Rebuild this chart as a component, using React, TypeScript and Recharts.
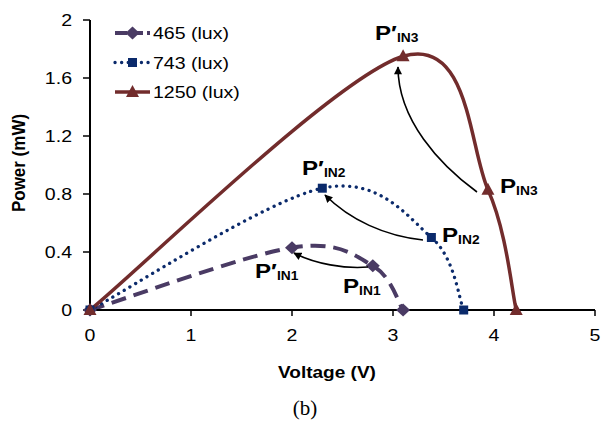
import { LineChart, Line, XAxis, YAxis } from 'recharts'

// values
const xTicks = [0, 1, 2, 3, 4, 5]
const yTicks = [0, 0.4, 0.8, 1.2, 1.6, 2]
const seriesNames = ['465 (lux)', '743 (lux)', '1250 (lux)']

const volts465 = [0, 2.0, 2.8, 3.1]
const power465 = [0, 0.43, 0.305, 0]
const volts743 = [0, 2.3, 3.38, 3.7]
const power743 = [0, 0.84, 0.5, 0]
const volts1250 = [0, 3.1, 3.94, 4.22]
const power1250 = [0, 1.75, 0.83, 0]

const zip = (xs: number[], ys: number[]) => xs.map((x, i) => ({ x, y: ys[i] }))

const FONT = '"Liberation Sans", Arial, sans-serif'
const SX = 1.15 // the figure's text is a bit wider than plain Arial

const COLORS = ['#4a3b64', '#0b2a6b', '#722c2c']

// Excel-style smoothed line (Catmull-Rom as cubic beziers)
function smoothCurve(context: any) {
  let pts: [number, number][] = []
  return {
    areaStart() {},
    areaEnd() {},
    lineStart() {
      pts = []
    },
    point(x: number, y: number) {
      pts.push([+x, +y])
    },
    lineEnd() {
      const n = pts.length
      if (!n) return
      context.moveTo(pts[0][0], pts[0][1])
      for (let i = 0; i < n - 1; i++) {
        const p0 = pts[Math.max(0, i - 1)]
        const p1 = pts[i]
        const p2 = pts[i + 1]
        const p3 = pts[Math.min(n - 1, i + 2)]
        context.bezierCurveTo(
          p1[0] + (p2[0] - p0[0]) / 6,
          p1[1] + (p2[1] - p0[1]) / 6,
          p2[0] - (p3[0] - p1[0]) / 6,
          p2[1] - (p3[1] - p1[1]) / 6,
          p2[0],
          p2[1]
        )
      }
    }
  }
}

function Marker({ kind, cx, cy, color }: { kind: number; cx: number; cy: number; color: string }) {
  if (kind === 0)
    return <polygon points={`${cx},${cy - 6.5} ${cx + 7},${cy} ${cx},${cy + 6.5} ${cx - 7},${cy}`} fill={color} />
  if (kind === 1) return <rect x={cx - 4.5} y={cy - 4.5} width={9} height={9} fill={color} />
  return <polygon points={`${cx},${cy - 7} ${cx + 6.5},${cy + 5} ${cx - 6.5},${cy + 5}`} fill={color} />
}

const dotFor = (kind: number) => (props: any) => (
  <Marker key={`${kind}-${props.index}`} kind={kind} cx={props.cx} cy={props.cy} color={COLORS[kind]} />
)

const lineStyles = [
  { strokeWidth: 4, strokeDasharray: '15 8', strokeLinecap: 'butt' as const },
  { strokeWidth: 3.3, strokeDasharray: '0.1 6.5', strokeLinecap: 'round' as const },
  { strokeWidth: 3.5, strokeDasharray: undefined, strokeLinecap: 'butt' as const }
]

function XTick(props: any) {
  const { x, y, payload } = props
  return (
    <text
      transform={`translate(${x},${y}) scale(${SX},1)`}
      textAnchor="middle"
      dy="0.71em"
      fontFamily={FONT}
      fontSize={17}
      fill="#000"
    >
      {payload.value}
    </text>
  )
}

function YTick(props: any) {
  const { x, y, payload } = props
  return (
    <text
      transform={`translate(${x},${y}) scale(${SX},1)`}
      textAnchor="end"
      dy="0.355em"
      fontFamily={FONT}
      fontSize={17}
      fill="#000"
    >
      {payload.value}
    </text>
  )
}

function PLabel({ x, y, prime, sub }: { x: number; y: number; prime?: boolean; sub: string }) {
  return (
    <text transform={`translate(${x},${y}) scale(${SX},1)`} fontFamily={FONT} fontWeight="bold" fill="#000">
      <tspan fontSize={21}>{prime ? 'P′' : 'P'}</tspan>
      <tspan fontSize={12} dy={2}>
        {sub}
      </tspan>
    </text>
  )
}

function Overlay() {
  return (
    <svg
      width={604}
      height={422}
      style={{ position: 'absolute', left: 0, top: 0, pointerEvents: 'none' }}
    >
      <defs>
        <marker
          id="ah"
          viewBox="0 0 10 10"
          refX="9"
          refY="5"
          markerUnits="userSpaceOnUse"
          markerWidth="9"
          markerHeight="8"
          orient="auto"
        >
          <path d="M0,0 L10,5 L0,10 z" fill="#000" />
        </marker>
      </defs>

      {/* legend */}
      {seriesNames.map((name, i) => {
        const y = 33 + i * 29.5
        const st = lineStyles[i]
        return (
          <g key={name}>
            <line
              x1={115}
              x2={150}
              y1={y}
              y2={y}
              stroke={COLORS[i]}
              strokeWidth={st.strokeWidth}
              strokeDasharray={i === 0 ? '12 4' : st.strokeDasharray}
              strokeLinecap={st.strokeLinecap}
            />
            <Marker kind={i} cx={132.5} cy={y} color={COLORS[i]} />
            <text
              transform={`translate(153,${y + 6}) scale(${SX},1)`}
              fontFamily={FONT}
              fontSize={17}
              fill="#000"
            >
              {name}
            </text>
          </g>
        )
      })}

      {/* arrows */}
      <g fill="none" stroke="#000" strokeWidth={1.6}>
        <path d="M368,267 C345,269 315,264 294,253" markerEnd="url(#ah)" />
        <path d="M423,240 C385,236 350,220 325,195" markerEnd="url(#ah)" />
        <path d="M477,192 C440,165 398,120 398,67" markerEnd="url(#ah)" />
      </g>

      <PLabel x={375} y={40} prime sub="IN3" />
      <PLabel x={302} y={175} prime sub="IN2" />
      <PLabel x={255} y={278} prime sub="IN1" />
      <PLabel x={500} y={193} sub="IN3" />
      <PLabel x={442} y={242} sub="IN2" />
      <PLabel x={343} y={293} sub="IN1" />

      {/* axis titles and caption */}
      <text
        transform={`translate(327,378) scale(1.12,1)`}
        textAnchor="middle"
        fontFamily={FONT}
        fontWeight="bold"
        fontSize={17}
        fill="#000"
      >
        Voltage (V)
      </text>
      <text
        transform="translate(19,163) rotate(-90) scale(1,1.12)"
        textAnchor="middle"
        dominantBaseline="central"
        fontFamily={FONT}
        fontWeight="bold"
        fontSize={17}
        fill="#000"
      >
        Power (mW)
      </text>
      <text
        x={305}
        y={415}
        textAnchor="middle"
        fontFamily='"Liberation Serif", "Times New Roman", serif'
        fontSize={21}
        fill="#000"
      >
        (b)
      </text>
    </svg>
  )
}

export default function App() {
  const series = [zip(volts465, power465), zip(volts743, power743), zip(volts1250, power1250)]

  return (
    <div style={{ position: 'absolute', left: 0, top: 0, width: 604, height: 422, background: '#fff' }}>
      <LineChart width={604} height={422} margin={{ top: 20, right: 9, left: 30, bottom: 82 }}>
        <XAxis
          dataKey="x"
          type="number"
          domain={[0, 5]}
          ticks={xTicks}
          height={30}
          tick={<XTick />}
          tickSize={6}
          tickMargin={13}
          axisLine={{ stroke: '#000', strokeWidth: 2 }}
          tickLine={{ stroke: '#000', strokeWidth: 1.5 }}
        />
        <YAxis
          type="number"
          domain={[0, 2]}
          ticks={yTicks}
          width={60}
          tick={<YTick />}
          tickSize={7}
          tickMargin={11}
          axisLine={{ stroke: '#000', strokeWidth: 2 }}
          tickLine={{ stroke: '#000', strokeWidth: 1.5 }}
        />
        {series.map((data, i) => (
          <Line
            key={seriesNames[i]}
            name={seriesNames[i]}
            data={data}
            dataKey="y"
            type={smoothCurve as any}
            stroke={COLORS[i]}
            strokeWidth={lineStyles[i].strokeWidth}
            strokeDasharray={lineStyles[i].strokeDasharray}
            strokeLinecap={lineStyles[i].strokeLinecap}
            dot={dotFor(i)}
            activeDot={false}
            isAnimationActive={false}
          />
        ))}
      </LineChart>
      <Overlay />
    </div>
  )
}
